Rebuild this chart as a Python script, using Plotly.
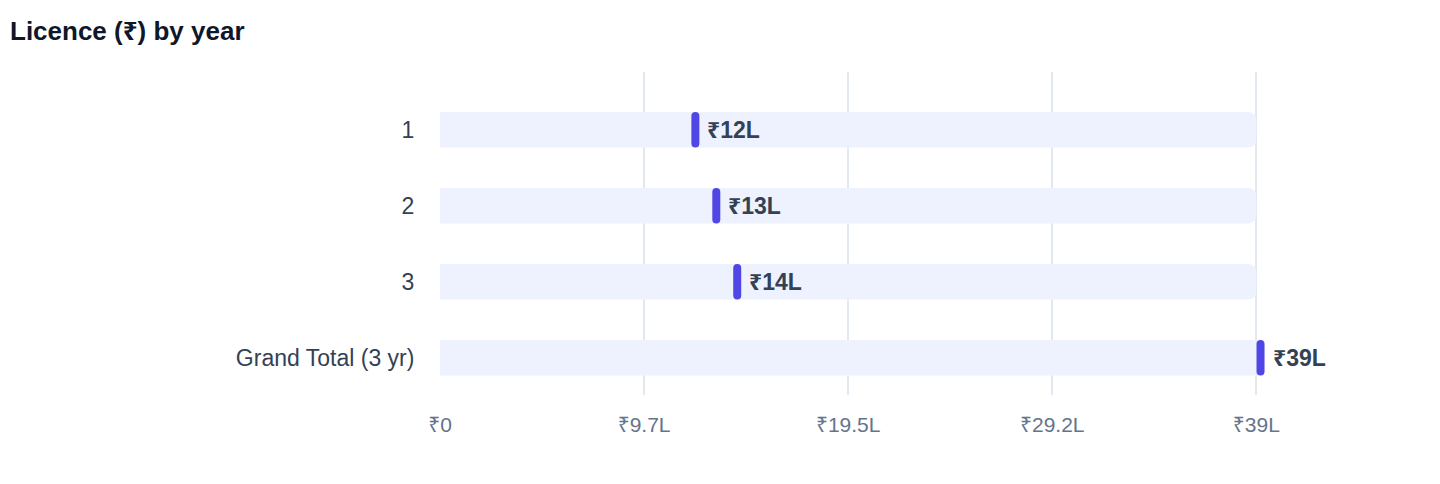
"""
Licence cost by year — dot-on-track chart.
Writes out.html
"""

import plotly.graph_objects as go

# =============================================================================
# DATA (lakh rupees)
# =============================================================================

years = ["1", "2", "3", "Grand Total (3 yr)"]
licence_lakh = [12.2, 13.2, 14.2, 39.2]
value_labels = ["₹12L", "₹13L", "₹14L", "₹39L"]

tick_values = [0, 9.75, 19.5, 29.25, 39]
tick_labels = ["₹0", "₹9.7L", "₹19.5L", "₹29.2L", "₹39L"]

# =============================================================================
# STYLE
# =============================================================================

TRACK_COLOR = "#EEF2FF"
DOT_COLOR = "#4F46E5"
LABEL_COLOR = "#334155"
TICK_COLOR = "#64748B"
GRID_COLOR = "#E2E8F0"
FONT = "Liberation Sans, Arial, Noto Sans, sans-serif"

# page body has an 8px margin, so the figure is sized 16px smaller
FIG_W, FIG_H = 1424, 468
M_L, M_R, M_T, M_B = 432, 71, 64, 81
PLOT_W = FIG_W - M_L - M_R
PLOT_H = FIG_H - M_T - M_B

X_MAX = 44.0
TRACK_END = tick_values[-1]
BAR_W = 0.47                    # category units
PX_PER_UNIT = PLOT_W / X_MAX
DOT_W = 8 / PX_PER_UNIT

fig = go.Figure()

# background tracks
fig.add_trace(go.Bar(
    y=years,
    x=[TRACK_END] * len(years),
    orientation="h",
    width=BAR_W,
    marker=dict(color=TRACK_COLOR, cornerradius=8, line_width=0),
    hoverinfo="skip",
    showlegend=False,
))

# value pills
fig.add_trace(go.Bar(
    y=years,
    x=[DOT_W] * len(years),
    base=[v - DOT_W / 2 for v in licence_lakh],
    orientation="h",
    width=BAR_W,
    marker=dict(color=DOT_COLOR, cornerradius=4, line_width=0),
    customdata=licence_lakh,
    hovertemplate="%{y}: ₹%{customdata}L<extra></extra>",
    showlegend=False,
))

# value labels (y given as category index: "1","2","3" would be read as numbers)
for i, (v, t) in enumerate(zip(licence_lakh, value_labels)):
    fig.add_annotation(
        x=v, y=i, text=f"<b>{t}</b>",
        showarrow=False, xanchor="left", xshift=10,
        font=dict(size=23, color=LABEL_COLOR, family=FONT),
    )

# title, pinned to the figure's top-left corner
fig.add_annotation(
    text="<b>Licence (₹) by year</b>",
    xref="paper", yref="paper",
    x=-M_L / PLOT_W, xanchor="left",
    y=1 + (M_T - (31 - 8)) / PLOT_H, yanchor="middle",
    showarrow=False,
    font=dict(size=26, color="#0F172A", family=FONT),
)

fig.update_layout(
    barmode="overlay",
    width=FIG_W, height=FIG_H,
    paper_bgcolor="white",
    plot_bgcolor="white",
    margin=dict(l=M_L, r=M_R, t=M_T, b=M_B),
    font=dict(family=FONT),
    xaxis=dict(
        range=[0, X_MAX],
        tickvals=tick_values,
        ticktext=tick_labels,
        tickfont=dict(size=21, color=TICK_COLOR),
        showgrid=True, gridcolor=GRID_COLOR, gridwidth=1.5,
        zeroline=False, showline=False,
        ticks="outside", ticklen=11, tickcolor="rgba(0,0,0,0)",
        fixedrange=True,
    ),
    yaxis=dict(
        range=[3.49, -0.76],
        tickfont=dict(size=23, color=LABEL_COLOR),
        showgrid=False, zeroline=False, showline=False,
        ticks="outside", ticklen=20, tickcolor="rgba(0,0,0,0)",
        fixedrange=True,
    ),
)

fig.write_html("out.html", config={"displayModeBar": False})
